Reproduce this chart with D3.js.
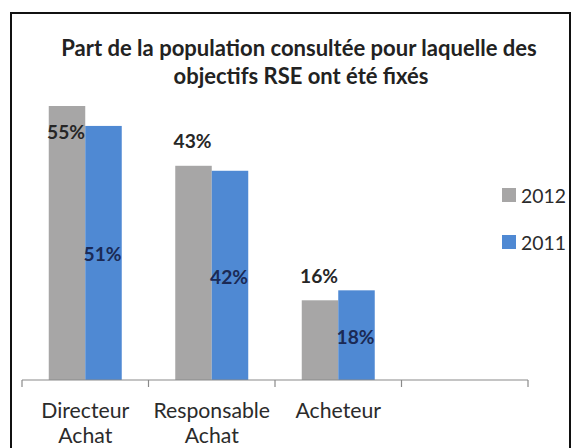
<!DOCTYPE html>
<html><head><meta charset="utf-8">
<script src="https://cdn.jsdelivr.net/npm/d3@7"></script>
<style>html,body{margin:0;padding:0;background:#fff;}</style>
</head><body>
<svg id="c" width="576" height="448"></svg>
<script>
const titleLines = ["Part de la population consultée pour laquelle des", "objectifs RSE ont été fixés"];
const categories = ["Directeur Achat", "Responsable Achat", "Acheteur", ""];
const seriesNames = ["2012", "2011"];
const values2012 = [55, 43, 16, null];
const values2011 = [51, 42, 18, null];
const colors = ["#a7a6a6", "#4f89d3"];
const labelColors = ["#262626", "#1b2a55"];

const svg = d3.select("#c");
const FONT = "Lato, 'Open Sans', sans-serif";
const AXFONT = "Lato, 'Open Sans', sans-serif";

function fit(sel, target) {
  const w = sel.node().getComputedTextLength();
  const fs = parseFloat(sel.attr("font-size"));
  sel.attr("font-size", fs * target / w);
}

// frame
svg.append("rect").attr("x", 11).attr("y", 13).attr("width", 559).attr("height", 460)
  .attr("fill", "#fff").attr("stroke", "#111").attr("stroke-width", 2);

// title
const tl = [{t: titleLines[0], x: 299, y: 47, w: 476}, {t: titleLines[1], x: 301, y: 75, w: 255}];
tl.forEach(d => {
  const s = svg.append("text").attr("x", d.x).attr("y", d.y).attr("text-anchor", "middle")
    .attr("dominant-baseline", "central").attr("font-family", FONT).attr("font-weight", "bold")
    .attr("font-size", 18).attr("fill", "#222").text(d.t);
  fit(s, d.w);
});

const x0 = d3.scaleBand().domain(categories).range([22, 528]).padding(0);
const y = d3.scaleLinear().domain([0, 60]).range([380, 81.1]);
const pad = x0.bandwidth() * 0.2115;
const x1 = d3.scaleBand().domain(seriesNames).range([pad, x0.bandwidth() - pad]).padding(0);

const rows = categories.map((c, i) => ({c, v: [values2012[i], values2011[i]]}));

const g = svg.append("g");
rows.forEach(r => {
  seriesNames.forEach((s, j) => {
    const v = r.v[j];
    if (v == null) return;
    g.append("rect").attr("x", x0(r.c) + x1(s)).attr("y", y(v))
      .attr("width", x1.bandwidth()).attr("height", y(0) - y(v)).attr("fill", colors[j]);
  });
});

// axis
const axis = svg.append("g").attr("stroke", "#8a8a8a").attr("stroke-width", 1.2);
axis.append("line").attr("x1", 22).attr("x2", 528).attr("y1", 380).attr("y2", 380);
const bounds = categories.map(c => x0(c)).concat([x0(categories[categories.length - 1]) + x0.bandwidth()]);
bounds.forEach(b => axis.append("line").attr("x1", b).attr("x2", b).attr("y1", 380).attr("y2", 387));

// category labels: size fitted on the first word, then one text per category with tspans
const probe = svg.append("text").attr("font-family", AXFONT).attr("font-size", 18).text("Directeur");
fit(probe, 88);
const AXFS = parseFloat(probe.attr("font-size"));
probe.remove();
categories.forEach(c => {
  if (!c) return;
  const cx = x0(c) + x0.bandwidth() / 2;
  const parts = c.split(" ");
  const t = svg.append("text").attr("text-anchor", "middle").attr("font-family", AXFONT)
    .attr("font-size", AXFS).attr("fill", "#2b2b2b");
  parts.forEach((p, k) => {
    t.append("tspan").attr("x", cx).attr("y", 418 + k * 25).text(p);
  });
});

// data labels
const plotTop = 100;
rows.forEach(r => {
  seriesNames.forEach((s, j) => {
    const v = r.v[j];
    if (v == null) return;
    const cx = x0(r.c) + x1(s) + x1.bandwidth() / 2;
    let cy;
    if (j === 1) cy = (y(v) + y(0)) / 2 + 1;
    else { cy = y(v) - 25; if (cy < plotTop) cy = y(v) + 25; }
    const t = svg.append("text").attr("x", cx - 1).attr("y", cy).attr("text-anchor", "middle")
      .attr("dominant-baseline", "central").attr("font-family", FONT).attr("font-weight", "bold")
      .attr("font-size", 17).attr("fill", labelColors[j]).text(v + "%");
    fit(t, 38);
  });
});

// legend
seriesNames.forEach((s, j) => {
  const ly = 195 + j * 47;
  svg.append("rect").attr("x", 502).attr("y", ly - 7).attr("width", 14).attr("height", 14).attr("fill", colors[j]);
  const t = svg.append("text").attr("x", 521).attr("y", ly).attr("dominant-baseline", "central")
    .attr("font-family", FONT).attr("font-size", 18).attr("fill", "#2b2b2b").text(s);
  fit(t, 45);
});
</script>
</body></html>
